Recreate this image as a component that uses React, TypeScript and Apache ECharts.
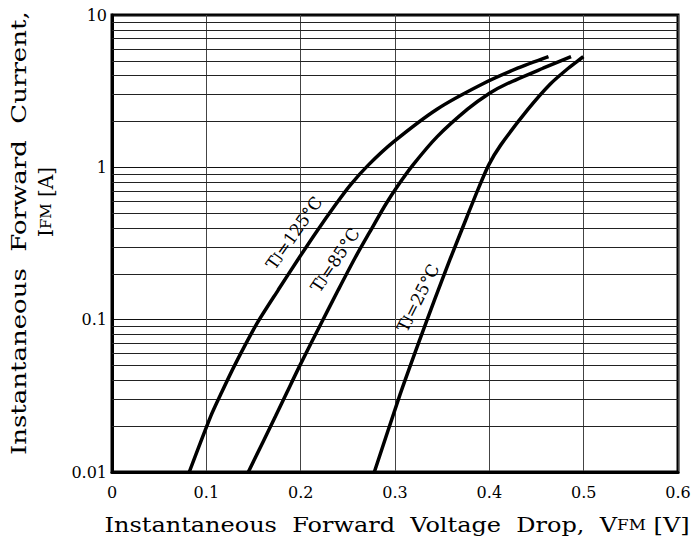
import React, { useEffect, useRef } from "react";
import * as echarts from "echarts";

const FONT = "DejaVu Serif";

// x-axis (Forward voltage, V)
const xMin = 0;
const xMax = 0.6;
const xStep = 0.1;
// y-axis (Forward current, A)
const yMin = 0.01;
const yMax = 10;
const yTickLabels = ["0.01", "0.1", "1", "10"];
const yMinorGrid = [
  0.02, 0.03, 0.04, 0.05, 0.06, 0.07, 0.08, 0.09,
  0.2, 0.3, 0.4, 0.5, 0.6, 0.7, 0.8, 0.9,
  2, 3, 4, 5, 6, 7, 8, 9,
];

// Tj = 125 °C
const v125 = [0.0819, 0.1046, 0.1163, 0.1304, 0.154, 0.1763, 0.1982, 0.2163, 0.2369, 0.2528, 0.2719, 0.2984, 0.3445, 0.3922, 0.4299, 0.4627];
const i125 = [0.01, 0.0232, 0.0334, 0.0507, 0.0951, 0.157, 0.254, 0.374, 0.568, 0.768, 1.038, 1.469, 2.408, 3.512, 4.472, 5.33];
// Tj = 85 °C
const v85 = [0.1445, 0.1733, 0.1855, 0.1996, 0.2219, 0.2399, 0.2576, 0.273, 0.2899, 0.3037, 0.3191, 0.3445, 0.3769, 0.4002, 0.4177, 0.4569, 0.4866];
const i85 = [0.01, 0.0232, 0.0334, 0.0507, 0.0951, 0.157, 0.254, 0.374, 0.568, 0.768, 1.038, 1.585, 2.408, 3.067, 3.512, 4.472, 5.33];
// Tj = 25 °C
const v25 = [0.2781, 0.3053, 0.3251, 0.342, 0.359, 0.3759, 0.3878, 0.3994, 0.4122, 0.4411, 0.4644, 0.4837, 0.4997];
const i25 = [0.01, 0.0322, 0.0707, 0.1352, 0.255, 0.4666, 0.712, 1.038, 1.404, 2.408, 3.512, 4.472, 5.33];

const curveLabels = ["125°C", "85°C", "25°C"];

const zip = (xs: number[], ys: number[]) => xs.map((x, k) => [x, ys[k]]);

export default function App() {
  const ref = useRef<HTMLDivElement>(null);
  useEffect(() => {
    if (!ref.current) return;
    const chart = echarts.init(ref.current, null, { renderer: "svg" });
    const curve = (name: string, data: number[][]) => ({
      name,
      type: "line",
      data,
      smooth: 0.25,
      showSymbol: false,
      symbol: "none",
      lineStyle: { color: "#000", width: 3.5 },
      z: 5,
    });
    const richLabel = {
      n: { fontFamily: FONT, fontSize: 17, fill: "#000", color: "#000" },
      s: { fontFamily: FONT, fontSize: 12, fill: "#000", color: "#000" },
    };
    const richTitle = {
      n: { fontFamily: FONT, fontSize: 20, fill: "#000", color: "#000" },
      s: { fontFamily: FONT, fontSize: 14, fill: "#000", color: "#000" },
    };
    const richTitle2 = {
      n: { fontFamily: FONT, fontSize: 20, fill: "#000", color: "#000" },
      s: { fontFamily: FONT, fontSize: 15, fill: "#000", color: "#000" },
    };
    const centered = {
      align: "center",
      verticalAlign: "middle",
      textAlign: "center",
      textVerticalAlign: "middle",
    };
    const leftMid = {
      align: "left",
      verticalAlign: "middle",
      textAlign: "left",
      textVerticalAlign: "middle",
    };
    const tjLabel = (x: number, y: number, deg: number, t: string) => ({
      type: "text",
      x,
      y,
      rotation: (deg * Math.PI) / 180,
      z: 10,
      style: { text: `{n|T}{s|J}{n|=${t}}`, ...centered, rich: richLabel },
    });
    chart.setOption({
      animation: false,
      backgroundColor: "#fff",
      grid: {
        left: 112,
        right: 17,
        top: 15,
        bottom: 75,
        show: true,
        borderColor: "#000",
        borderWidth: 3,
        backgroundColor: "transparent",
      },
      xAxis: {
        type: "value",
        min: xMin,
        max: xMax,
        interval: xStep,
        axisLine: { show: true, lineStyle: { color: "#000", width: 3 } },
        axisTick: { show: false },
        axisLabel: {
          margin: 12,
          fontFamily: FONT,
          fontSize: 16,
          color: "#000",
          formatter: (v: number) => (v === 0 ? "0" : v.toFixed(1)),
        },
        splitLine: { show: true, lineStyle: { color: "#444", width: 1 } },
      },
      yAxis: {
        type: "log",
        logBase: 10,
        min: yMin,
        max: yMax,
        axisLine: { show: true, lineStyle: { color: "#000", width: 3 } },
        axisTick: { show: false },
        axisLabel: {
          margin: 5,
          fontFamily: FONT,
          fontSize: 16,
          color: "#000",
          formatter: (v: number, idx: number) => yTickLabels[idx] ?? String(v),
        },
        splitLine: { show: true, lineStyle: { color: "#111", width: 1 } },
      },
      series: [
        {
          type: "line",
          data: [],
          silent: true,
          markLine: {
            silent: true,
            symbol: "none",
            label: { show: false },
            lineStyle: { color: "#222", width: 1, type: "solid" },
            data: yMinorGrid.map((y) => ({ yAxis: y })),
          },
        },
        curve("125", zip(v125, i125)),
        curve("85", zip(v85, i85)),
        curve("25", zip(v25, i25)),
      ],
      graphic: [
        {
          type: "text",
          x: 397,
          y: 525,
          scaleX: 1.2,
          style: {
            text: "{n|Instantaneous  Forward  Voltage  Drop,  V}{s|FM}{n| [V]}",
            ...centered,
            rich: richTitle,
          },
        },
        {
          type: "text",
          x: 19,
          y: 455,
          rotation: Math.PI / 2,
          scaleX: 1.3,
          style: {
            text: "Instantaneous  Forward  Current,",
            font: `20px ${FONT}`,
            fill: "#000",
            ...leftMid,
          },
        },
        {
          type: "text",
          x: 46,
          y: 237,
          rotation: Math.PI / 2,
          scaleX: 1.0,
          style: { text: "{n|I}{s|FM}{n| [A]}", ...leftMid, rich: richTitle2 },
        },
        tjLabel(294, 233, 55, curveLabels[0]),
        tjLabel(335, 260, 56, curveLabels[1]),
        tjLabel(418, 298, 63, curveLabels[2]),
      ],
    });
    return () => chart.dispose();
  }, []);
  return (
    <div
      ref={ref}
      style={{ position: "fixed", left: 0, top: 0, width: 695, height: 547, background: "#fff" }}
    />
  );
}
